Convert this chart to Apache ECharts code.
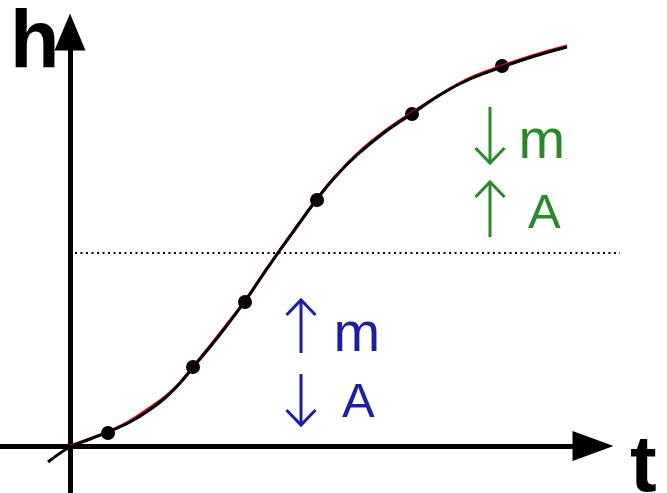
<!DOCTYPE html>
<html>
<head>
<meta charset="utf-8">
<script src="https://cdn.jsdelivr.net/npm/echarts@6/dist/echarts.min.js"></script>
<style>
  html, body { margin: 0; padding: 0; background: #fff; }
  #chart { width: 667px; height: 493px; }
</style>
</head>
<body>
<div id="chart"></div>
<script>
// Growth curve h(t): sampled points along the S-shaped curve
const curveT = [-22, 0, 20, 38, 60, 78, 95, 110, 124, 140, 155, 175, 192, 210, 228, 247, 265, 287, 315, 343, 373, 400, 432, 465, 497];
const curveH = [-16, -1, 7, 14, 24, 35, 48, 63, 80, 99, 118, 145, 170, 196, 221, 247, 269, 291, 314, 333, 353, 367, 379, 390, 399];

// Underlying smooth model curve (red), starting at the origin
const modelT = [0, 20, 38, 60, 78, 95, 110, 124, 140, 155, 175, 192, 210, 228, 247, 265, 287, 315, 343, 373, 400, 432, 465, 497];
const modelH = [0, 7, 14, 25, 37, 49, 63, 80, 100, 119, 145, 170, 196, 221, 247, 269, 292, 315, 334, 353, 368, 380, 391, 400];

// Measured points
const pointT = [38, 123, 175, 247, 342, 432];
const pointH = [13, 79, 144, 246, 332, 380];

// Inflection level (dotted reference line)
const levelT = [5, 550];
const levelH = 193;

// Axis names and annotation labels
const axisNames = { y: 'h', x: 't' };
const upperNote = { labels: ['m', 'A'] };
const lowerNote = { labels: ['m', 'A'] };

const GREEN = '#2a8a2a';
const BLUE = '#1e1ea0';

const zip = (a, b) => a.map((v, i) => [v, b[i]]);

const chart = echarts.init(document.getElementById('chart'), null, { renderer: 'canvas' });

// Thin arrow (shaft plus open chevron head) drawn as graphic polylines
function arrowGraphic(x, yTop, yBottom, up, color) {
  const headW = 14.5, headH = 15;
  const tipY = up ? yTop : yBottom;
  const baseY = up ? yTop + headH : yBottom - headH;
  return {
    type: 'group',
    children: [
      { type: 'line', shape: { x1: x, y1: yTop, x2: x, y2: yBottom },
        style: { stroke: color, lineWidth: 3 } },
      { type: 'polyline', shape: { points: [[x - headW, baseY], [x, tipY], [x + headW, baseY]] },
        style: { stroke: color, lineWidth: 3, fill: null } }
    ]
  };
}

function textGraphic(str, x, y, size, color, weight) {
  return {
    type: 'text',
    style: {
      text: str, x: x, y: y,
      font: (weight || 'normal') + ' ' + size + 'px "Liberation Sans", Arial, sans-serif',
      fill: color, textAlign: 'left', textVerticalAlign: 'middle'
    }
  };
}

const hiddenAxis = {
  axisLine: { show: false }, axisTick: { show: false },
  axisLabel: { show: false }, splitLine: { show: false }
};

const option = {
  animation: false,
  grid: [
    // main plotting area; the axis arrows sit at its right and top edges
    { left: 0, right: 74, top: 32, bottom: 1, containLabel: false },
    // wider overlay area with the same scale, for the reference level line
    { left: 0, right: 0, top: 32, bottom: 1, containLabel: false }
  ],
  xAxis: [
    {
      type: 'value', min: -70, max: 523, gridIndex: 0,
      axisLine: { onZero: true, symbol: ['none', 'triangle'], symbolSize: [30, 41],
        lineStyle: { color: '#000', width: 5 } },
      axisTick: { show: false }, axisLabel: { show: false }, splitLine: { show: false }
    },
    Object.assign({ type: 'value', min: -70, max: 597, gridIndex: 1 }, hiddenAxis)
  ],
  yAxis: [
    {
      type: 'value', min: -46, max: 414, gridIndex: 0,
      axisLine: { onZero: true, symbol: ['none', 'triangle'], symbolSize: [31, 37],
        lineStyle: { color: '#000', width: 5 } },
      axisTick: { show: false }, axisLabel: { show: false }, splitLine: { show: false }
    },
    Object.assign({ type: 'value', min: -46, max: 414, gridIndex: 1 }, hiddenAxis)
  ],
  series: [
    {
      type: 'line', data: zip(levelT, [levelH, levelH]),
      xAxisIndex: 1, yAxisIndex: 1,
      symbol: 'none', silent: true,
      lineStyle: { color: '#000', width: 2, type: [2, 3.5] }
    },
    {
      type: 'line', data: zip(modelT, modelH), smooth: 0.4,
      symbol: 'none', silent: true,
      lineStyle: { color: '#e01818', width: 3 }
    },
    {
      type: 'line', data: zip(curveT, curveH), smooth: 0.4,
      symbol: 'none', silent: true,
      lineStyle: { color: '#000', width: 3 }
    },
    {
      type: 'scatter', data: zip(pointT, pointH),
      symbol: 'circle', symbolSize: 14, silent: true,
      itemStyle: { color: '#000', opacity: 1 }
    }
  ],
  graphic: [
    textGraphic(axisNames.y, 10, 45, 81, '#000', 'bold'),
    textGraphic(axisNames.x, 630, 469, 80, '#000', 'bold'),

    arrowGraphic(490, 107, 163, false, GREEN),
    arrowGraphic(490, 182, 237, true, GREEN),
    textGraphic(upperNote.labels[0], 518.5, 142.6, 56, GREEN),
    textGraphic(upperNote.labels[1], 528, 214.4, 49, GREEN),

    arrowGraphic(301, 300, 353, true, BLUE),
    arrowGraphic(301, 374, 425, false, BLUE),
    textGraphic(lowerNote.labels[0], 333.5, 335.6, 56, BLUE),
    textGraphic(lowerNote.labels[1], 342, 403.4, 49, BLUE)
  ]
};

chart.setOption(option);
</script>
</body>
</html>
